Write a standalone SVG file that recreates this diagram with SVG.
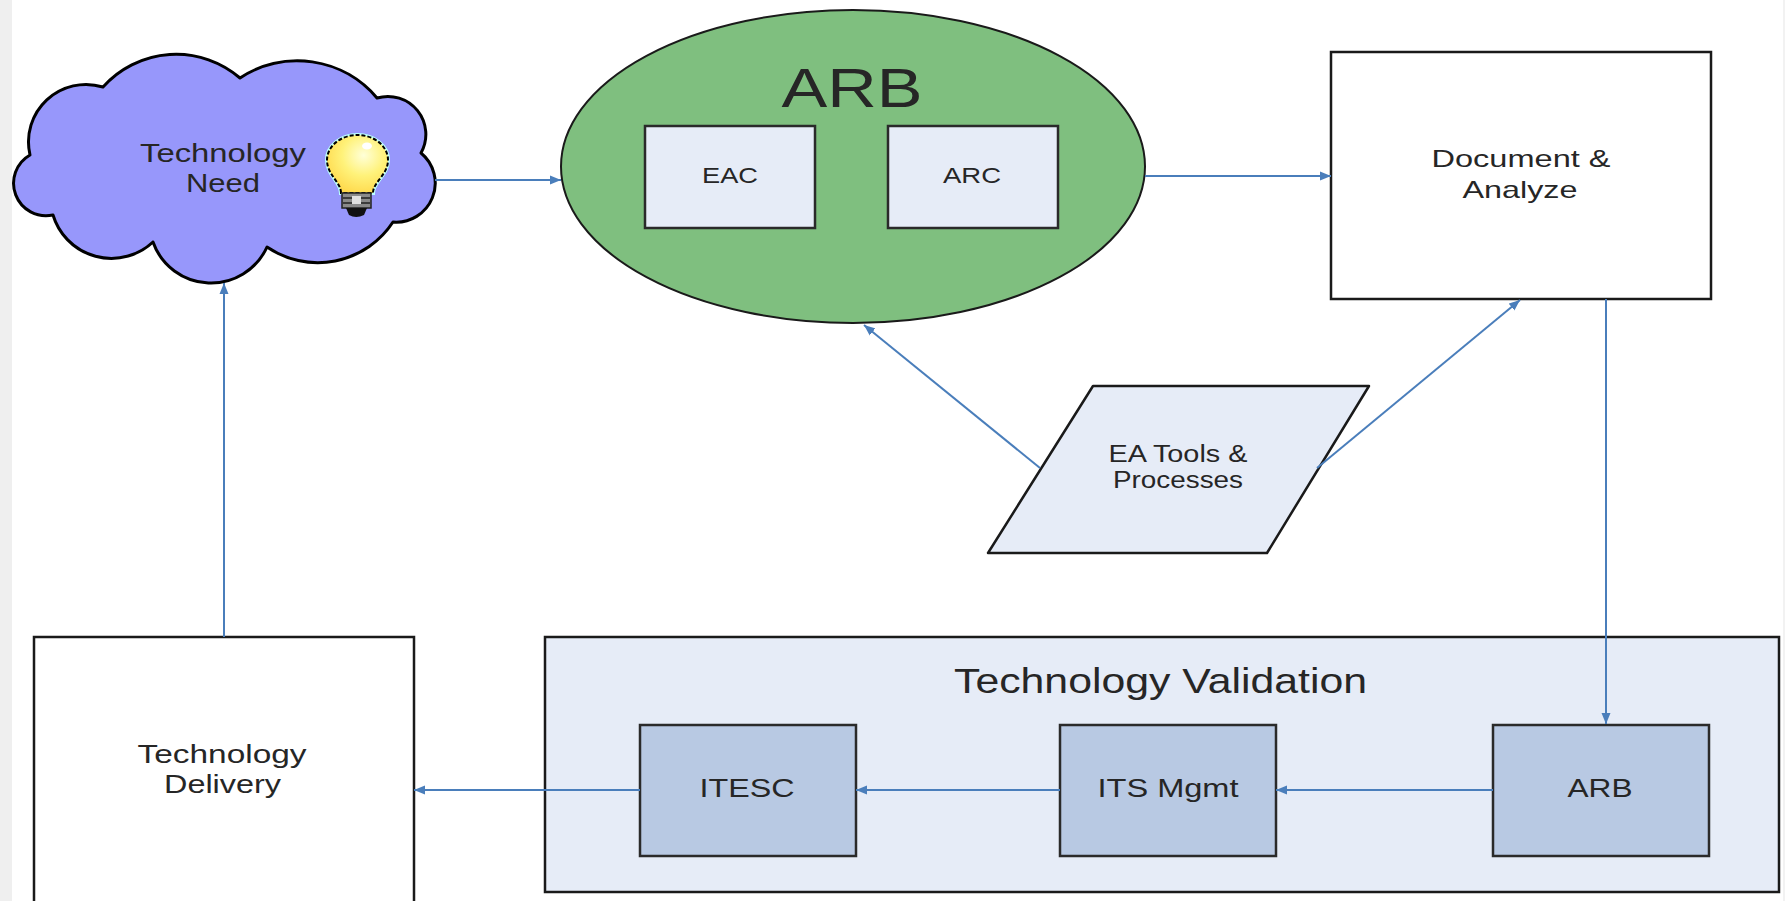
<svg xmlns="http://www.w3.org/2000/svg" width="1785" height="901" viewBox="0 0 1785 901">
<style>
.t{font-family:"Liberation Sans",Arial,sans-serif;fill:#262626;text-anchor:middle}
.box{stroke:#2a2a2a;stroke-width:2.5}
.light{fill:#e6ecf7}
.mid{fill:#b8c9e3}
.conn{fill:none;stroke:#4a7ebb;stroke-width:2}
</style>
<defs>
<marker id="arr" markerUnits="userSpaceOnUse" markerWidth="12" markerHeight="10" refX="11" refY="5" orient="auto">
<path d="M0,0.5 L11,5 L0,9.5 z" fill="#4a7ebb"/>
</marker>
<radialGradient id="bulb" cx="0.6" cy="0.35" r="0.7">
<stop offset="0" stop-color="#ffffd8"/>
<stop offset="0.5" stop-color="#fff27a"/>
<stop offset="1" stop-color="#ffd84a"/>
</radialGradient>
</defs>
<rect x="0" y="0" width="1785" height="901" fill="#ffffff"/>
<rect x="0" y="0" width="12" height="901" fill="#efefef"/>
<rect x="1783" y="0" width="2" height="901" fill="#f2f2f2"/>

<g id="technology-need">
<path d="M103,87 A98,98 0 0 1 240,78 A104,104 0 0 1 377,98 A38,38 0 0 1 421,153 A39,39 0 0 1 393,222 A90,90 0 0 1 267,247 A61.5,61.5 0 0 1 153,242 A61,61 0 0 1 53,215 A32.5,32.5 0 0 1 30,155 A57.5,57.5 0 0 1 103,87 Z" fill="#9797fb" stroke="#000" stroke-width="3" stroke-linejoin="round"/>
<text class="t" x="223" y="162" font-size="26" textLength="166" lengthAdjust="spacingAndGlyphs">Technology</text>
<text class="t" x="223" y="192" font-size="26" textLength="74" lengthAdjust="spacingAndGlyphs">Need</text>
<g id="lightbulb">
<path d="M341,193 C341,182 327,175 327,160 A30.5,25 0 0 1 388,160 C388,175 373,182 373,193 Z" fill="url(#bulb)" stroke="#bff" stroke-width="4"/>
<path d="M341,193 C341,182 327,175 327,160 A30.5,25 0 0 1 388,160 C388,175 373,182 373,193 Z" fill="url(#bulb)" stroke="#000" stroke-width="2" stroke-dasharray="4 2"/>
<ellipse cx="367" cy="146" rx="5" ry="3.5" fill="#ffffff"/>
<rect x="342" y="193" width="29" height="15" fill="#8a8a8a" stroke="#222" stroke-width="1.5"/>
<line x1="343" y1="198" x2="370" y2="198" stroke="#222" stroke-width="1.5"/>
<line x1="343" y1="203" x2="370" y2="203" stroke="#222" stroke-width="1.5"/>
<rect x="352" y="196" width="9" height="8" fill="#e0e0e0"/>
<path d="M346,208 L367,208 L364,215 Q356,219 349,215 Z" fill="#111"/>
</g>
</g>

<g id="arb-board">
<ellipse cx="853" cy="166.5" rx="292" ry="156.5" fill="#7fbf7f" stroke="#1a1a1a" stroke-width="2"/>
<text class="t" x="852" y="107" font-size="56" textLength="141" lengthAdjust="spacingAndGlyphs">ARB</text>
</g>
<g id="eac">
<rect class="box light" x="645" y="126" width="170" height="102"/>
<text class="t" x="730" y="183" font-size="22" textLength="56" lengthAdjust="spacingAndGlyphs">EAC</text>
</g>
<g id="arc">
<rect class="box light" x="888" y="126" width="170" height="102"/>
<text class="t" x="972" y="183" font-size="22" textLength="58" lengthAdjust="spacingAndGlyphs">ARC</text>
</g>

<g id="document-analyze">
<rect x="1331" y="52" width="380" height="247" fill="#ffffff" stroke="#1a1a1a" stroke-width="2.5"/>
<text class="t" x="1521" y="167" font-size="24" textLength="179" lengthAdjust="spacingAndGlyphs">Document &amp;</text>
<text class="t" x="1520" y="198" font-size="24" textLength="115" lengthAdjust="spacingAndGlyphs">Analyze</text>
</g>

<g id="ea-tools">
<path d="M1093,386 L1369,386 L1267,553 L988,553 Z" class="light" stroke="#1a1a1a" stroke-width="2.5" stroke-linejoin="round"/>
<text class="t" x="1178" y="462" font-size="23" textLength="139" lengthAdjust="spacingAndGlyphs">EA Tools &amp;</text>
<text class="t" x="1178" y="488" font-size="23" textLength="130" lengthAdjust="spacingAndGlyphs">Processes</text>
</g>

<g id="technology-validation">
<rect x="545" y="637" width="1234" height="255" class="light" stroke="#1a1a1a" stroke-width="2.5"/>
<text class="t" x="1160.5" y="693" font-size="35" textLength="413" lengthAdjust="spacingAndGlyphs">Technology Validation</text>
</g>
<g id="itesc">
<rect class="box mid" x="640" y="725" width="216" height="131"/>
<text class="t" x="747" y="797" font-size="25" textLength="95" lengthAdjust="spacingAndGlyphs">ITESC</text>
</g>
<g id="its-mgmt">
<rect class="box mid" x="1060" y="725" width="216" height="131"/>
<text class="t" x="1168" y="797" font-size="25" textLength="141" lengthAdjust="spacingAndGlyphs">ITS Mgmt</text>
</g>
<g id="arb-validation">
<rect class="box mid" x="1493" y="725" width="216" height="131"/>
<text class="t" x="1600" y="797" font-size="25" textLength="65" lengthAdjust="spacingAndGlyphs">ARB</text>
</g>

<g id="technology-delivery">
<rect x="34" y="637" width="380" height="280" fill="#ffffff" stroke="#1a1a1a" stroke-width="2.5"/>
<text class="t" x="222" y="763" font-size="25" textLength="169" lengthAdjust="spacingAndGlyphs">Technology</text>
<text class="t" x="222.5" y="793" font-size="25" textLength="117" lengthAdjust="spacingAndGlyphs">Delivery</text>
</g>

<g id="connectors">
<path class="conn" d="M435,180 H561" marker-end="url(#arr)"/>
<path class="conn" d="M1145,176 H1331" marker-end="url(#arr)"/>
<path class="conn" d="M1040,468 L864,325" marker-end="url(#arr)"/>
<path class="conn" d="M1317,468 L1520,300" marker-end="url(#arr)"/>
<path class="conn" d="M1606,299 V724" marker-end="url(#arr)"/>
<path class="conn" d="M1493,790 H1276" marker-end="url(#arr)"/>
<path class="conn" d="M1060,790 H856" marker-end="url(#arr)"/>
<path class="conn" d="M640,790 H414" marker-end="url(#arr)"/>
<path class="conn" d="M224,637 V283" marker-end="url(#arr)"/>
</g>
</svg>
